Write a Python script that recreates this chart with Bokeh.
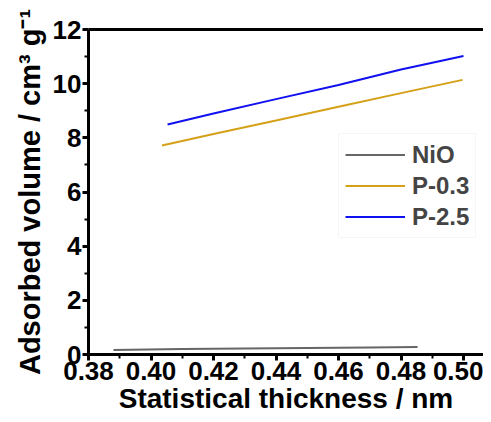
from bokeh.plotting import figure
from bokeh.models import Range1d, LinearAxis, Legend, LegendItem, FixedTicker, CustomJSTickFormatter
from bokeh.embed import file_html
from bokeh.resources import INLINE

# Data
nio_x = [0.388, 0.410, 0.430, 0.450, 0.470, 0.4853]
nio_y = [0.17, 0.20, 0.22, 0.24, 0.26, 0.28]
p03_x = [0.4035, 0.420, 0.440, 0.460, 0.480, 0.4997]
p03_y = [7.72, 8.14, 8.64, 9.15, 9.65, 10.14]
p25_x = [0.4053, 0.420, 0.440, 0.460, 0.480, 0.5000]
p25_y = [8.49, 8.90, 9.43, 9.95, 10.52, 11.02]
x_ticks = [0.38, 0.40, 0.42, 0.44, 0.46, 0.48, 0.50]
x_minor = [0.39, 0.41, 0.43, 0.45, 0.47, 0.49]
y_ticks = [0, 2, 4, 6, 8, 10, 12]
y_minor = [1, 3, 5, 7, 9, 11]
series_names = ["NiO", "P-0.3", "P-2.5"]
series_colors = ["#666666", "#D4A017", "#1010F0"]

FONT = "Liberation Sans"

p = figure(width=483, height=416, output_backend="svg", toolbar_location=None,
           x_range=Range1d(0.38, 0.5064), y_range=Range1d(0, 12),
           min_border_left=88, min_border_right=0, min_border_top=29, min_border_bottom=60)
p.outline_line_color = None
p.grid.visible = False

for ax in (p.xaxis[0], p.yaxis[0]):
    ax.axis_line_width = 3
    ax.axis_line_color = "black"
    ax.major_tick_line_width = 3
    ax.minor_tick_line_width = 2
    ax.major_tick_in = 0
    ax.major_tick_out = 6
    ax.minor_tick_in = 0
    ax.minor_tick_out = 4
    ax.major_label_text_font = FONT
    ax.major_label_text_font_style = "bold"
    ax.major_label_text_font_size = "26px"
    ax.major_label_text_color = "black"
    ax.axis_label_text_font = FONT
    ax.axis_label_text_font_style = "bold"
    ax.axis_label_text_font_size = "28px"
    ax.axis_label_text_color = "black"

p.yaxis[0].axis_label_text_font_size = "29px"
p.xaxis[0].ticker = FixedTicker(ticks=x_ticks, minor_ticks=x_minor)
p.yaxis[0].ticker = FixedTicker(ticks=y_ticks, minor_ticks=y_minor)
p.xaxis[0].formatter = CustomJSTickFormatter(code="return tick.toFixed(2);")
p.xaxis[0].axis_label = "Statistical thickness / nm"
p.yaxis[0].axis_label = "Adsorbed volume / cm\u00b3 g\u207b\u00b9"
p.xaxis[0].major_label_standoff = 1
p.xaxis[0].axis_label_standoff = 0
p.yaxis[0].major_label_standoff = 1
p.yaxis[0].axis_label_standoff = 4

top = LinearAxis(major_tick_line_color=None, minor_tick_line_color=None,
                 major_label_text_font_size="0px", axis_line_width=3, axis_line_color="black")
p.add_layout(top, "above")

items = []
for xs, ys, name, col in zip([nio_x, p03_x, p25_x], [nio_y, p03_y, p25_y], series_names, series_colors):
    r = p.line(xs, ys, line_color=col, line_width=2)
    items.append(LegendItem(label=name, renderers=[r]))

legend = Legend(items=items, location=(250, 116), label_text_font=FONT,
                label_text_font_style="bold", label_text_font_size="24px",
                glyph_width=60, label_standoff=7, spacing=2, padding=6,
                border_line_color="#eeeeee", border_line_width=1,
                label_height=29, glyph_height=29, margin=0)
p.add_layout(legend, "center")

open("out.html", "w").write(file_html(p, INLINE))
